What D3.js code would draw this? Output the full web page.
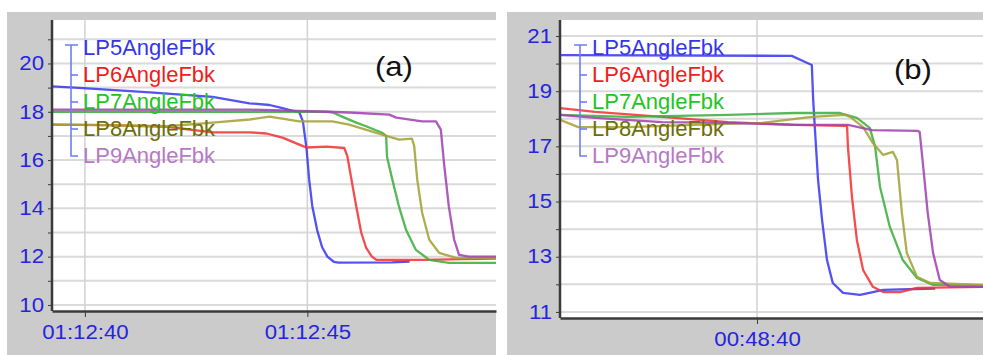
<!DOCTYPE html>
<html>
<head>
<meta charset="utf-8">
<script src="https://cdn.jsdelivr.net/npm/d3@7"></script>
<style>
  body { margin: 0; background: #fff; }
  svg { display: block; font-family: "Liberation Sans", Arial, sans-serif; }
  .grid-h { stroke: #dadada; stroke-width: 2; }
  .grid-v { stroke: #d2d2d2; stroke-width: 1.5; }
  .axis path, .axis line { stroke: #3a3a3a; }
  .axis path { stroke-width: 2.5; }
  .axis text { fill: #2424e0; font-size: 19.5px; }
  .series { fill: none; stroke-width: 2.3; stroke-linejoin: round; stroke-opacity: 0.88; }
  .legend text { font-size: 22px; }
  .bracket { stroke: #6f7ef2; stroke-width: 1.6; fill: none; }
</style>
</head>
<body>
<script>
// series names and colours (line colour / legend text colour)
const names = ["LP5AngleFbk", "LP6AngleFbk", "LP7AngleFbk", "LP8AngleFbk", "LP9AngleFbk"];
const lineColors = ["#3b3bf2", "#f23434", "#3fae3f", "#a3a339", "#a244b2"];
const textColors = ["#3434ee", "#f01c1c", "#22c422", "#6e6e08", "#b579c6"];
const panelLabels = ["(a)", "(b)"];

// panel (a): seconds after 01:12:00
const aTicksX = [40, 45];
const aLabelsX = ["01:12:40", "01:12:45"];
const aTicksY = [10, 12, 14, 16, 18, 20];
const aLP5 = [[39.26,19.05],[39.96,18.98],[41.46,18.8],[42.87,18.62],[43.7,18.35],[44.15,18.28],[44.44,18.15],[44.82,17.97],[44.9,17.6],[44.98,16.5],[45.04,15.2],[45.11,14.1],[45.22,13.1],[45.33,12.4],[45.45,12.0],[45.6,11.78],[45.7,11.75],[46.9,11.76],[47.3,11.8]];
const aLP6 = [[39.26,17.47],[40.5,17.45],[41.84,17.38],[42.87,17.15],[43.7,17.15],[44.08,17.1],[44.44,16.93],[44.82,16.64],[44.98,16.52],[45.43,16.56],[45.83,16.5],[45.9,16.15],[45.99,15.2],[46.1,14.07],[46.21,13.0],[46.32,12.37],[46.45,12.0],[46.55,11.87],[47.6,11.87],[48.5,11.9],[49.24,11.92]];
const aLP7 = [[39.26,18.0],[43.7,18.0],[45.43,18.0],[45.56,17.98],[45.78,17.8],[46.1,17.55],[46.32,17.4],[46.68,17.13],[46.77,17.0],[46.79,16.14],[46.91,15.19],[47.06,14.07],[47.22,13.1],[47.44,12.28],[47.74,11.87],[48.18,11.74],[49.24,11.74]];
const aLP8 = [[39.26,17.47],[40.5,17.45],[41.84,17.4],[42.87,17.55],[43.7,17.68],[44.15,17.8],[44.82,17.6],[45.56,17.6],[45.94,17.47],[46.68,17.05],[47.06,16.85],[47.35,16.89],[47.4,16.6],[47.47,15.19],[47.58,13.82],[47.74,12.7],[47.96,12.16],[48.34,11.95],[49.24,11.95]];
const aLP9 = [[39.26,18.09],[43.7,18.09],[45.43,18.0],[45.94,17.97],[46.84,17.88],[47.0,17.76],[47.58,17.6],[47.89,17.6],[48.0,17.26],[48.07,15.89],[48.18,14.07],[48.3,12.7],[48.41,12.07],[48.63,12.0],[49.24,12.0]];

// panel (b): seconds after 00:48:00
const bTicksX = [40];
const bLabelsX = ["00:48:40"];
const bTicksY = [11, 13, 15, 17, 19, 21];
const bLP5 = [[35.58,20.31],[40.78,20.28],[41.08,20.06],[41.23,19.95],[41.26,18.7],[41.3,17.6],[41.37,15.78],[41.46,14.33],[41.57,12.88],[41.7,12.05],[41.93,11.69],[42.31,11.62],[42.6,11.72],[42.83,11.8],[44.0,11.85]];
const bLP6 = [[35.58,18.39],[36.37,18.25],[37.87,18.07],[39.35,17.88],[40.85,17.78],[41.97,17.74],[42.02,17.75],[42.04,16.98],[42.13,15.17],[42.24,13.61],[42.38,12.52],[42.6,11.91],[42.83,11.72],[43.21,11.72],[43.59,11.87],[45.07,11.91]];
const bLP7 = [[35.58,18.14],[37.11,18.07],[39.35,18.14],[40.85,18.21],[41.86,18.21],[42.24,18.03],[42.53,17.67],[42.65,16.98],[42.76,15.53],[42.98,14.08],[43.27,12.88],[43.59,12.23],[43.95,11.98],[45.07,11.96]];
const bLP8 = [[35.58,17.96],[35.99,17.7],[37.11,17.7],[38.61,17.78],[40.11,17.85],[41.23,18.07],[41.97,18.14],[42.09,18.07],[42.38,17.7],[42.6,17.12],[42.83,16.69],[43.05,16.8],[43.14,16.51],[43.25,14.59],[43.36,13.14],[43.59,12.27],[43.88,12.05],[45.07,11.98]];
const bLP9 = [[35.58,18.14],[36.37,18.03],[37.87,17.88],[39.35,17.85],[40.85,17.78],[42.04,17.78],[42.58,17.59],[43.61,17.56],[43.65,17.52],[43.72,16.4],[43.83,14.59],[43.95,13.14],[44.1,12.16],[44.33,11.91],[45.07,11.91]];

let svg = d3.select("body").append("svg")
    .attr("width", 983)
    .attr("height", 355);

let panels = [
  {id: "a", bg: [7, 12, 496, 355], plot: {left: 52, right: 496, top: 20, bottom: 311},
   xDomain: [39.26, 49.24], yDomain: [9.75, 21.8],
   ticksX: aTicksX, labelsX: aLabelsX, ticksY: aTicksY,
   series: [aLP5, aLP6, aLP7, aLP8, aLP9],
   legendX: 83, legendY: 55, bracketX: 71, labelPos: [394, 76], label: panelLabels[0]},
  {id: "b", bg: [507, 12, 983, 355], plot: {left: 560, right: 983, top: 20, bottom: 318},
   xDomain: [35.58, 45.07], yDomain: [10.78, 21.58],
   ticksX: bTicksX, labelsX: bLabelsX, ticksY: bTicksY,
   series: [bLP5, bLP6, bLP7, bLP8, bLP9],
   legendX: 592, legendY: 55, bracketX: 580, labelPos: [913, 79], label: panelLabels[1]}
];

function drawPanel(p) {
  let g = svg.append("g");
  let pl = p.plot;

  g.append("rect")
      .attr("x", p.bg[0]).attr("y", p.bg[1])
      .attr("width", p.bg[2] - p.bg[0]).attr("height", p.bg[3] - p.bg[1])
      .attr("fill", "#cbcbcb");
  g.append("rect")
      .attr("x", pl.left).attr("y", pl.top)
      .attr("width", pl.right - pl.left).attr("height", pl.bottom - pl.top)
      .attr("fill", "#fff");

  let x = d3.scaleLinear().domain(p.xDomain).range([pl.left, pl.right]);
  let y = d3.scaleLinear().domain(p.yDomain).range([pl.bottom, pl.top]);

  // every whole unit gets a grid line and a minor tick
  let yMinor = d3.range(Math.ceil(p.yDomain[0]), Math.floor(p.yDomain[1]) + 1);

  g.append("g").selectAll("line")
    .data(yMinor)
    .enter().append("line")
      .attr("class", "grid-h")
      .attr("x1", pl.left).attr("x2", pl.right)
      .attr("y1", d => y(d)).attr("y2", d => y(d));
  g.append("g").selectAll("line")
    .data(p.ticksX)
    .enter().append("line")
      .attr("class", "grid-v")
      .attr("x1", d => x(d)).attr("x2", d => x(d))
      .attr("y1", pl.top).attr("y2", pl.bottom);

  let clipId = "clip-" + p.id;
  g.append("clipPath").attr("id", clipId)
    .append("rect")
      .attr("x", pl.left).attr("y", pl.top)
      .attr("width", pl.right - pl.left).attr("height", pl.bottom - pl.top);

  let line = d3.line()
      .x(d => x(d[0]))
      .y(d => y(d[1]));

  let lines = g.append("g").attr("clip-path", `url(#${clipId})`);
  p.series.forEach((s, i) => {
    lines.append("path")
        .datum(s)
        .attr("class", "series")
        .attr("stroke", lineColors[i])
        .attr("d", line);
  });

  // legend with its bracket
  let lg = g.append("g").attr("class", "legend");
  let rowY = i => p.legendY + i * 27;
  lg.selectAll("text")
    .data(names)
    .enter().append("text")
      .attr("x", p.legendX)
      .attr("y", (d, i) => rowY(i))
      .attr("fill", (d, i) => textColors[i])
      .text(d => d);
  let bx = p.bracketX;
  lg.append("path")
      .attr("class", "bracket")
      .attr("d", `M${bx - 6},${rowY(0) - 10}H${bx + 7}M${bx},${rowY(0) - 10}V${rowY(4) - 7}H${bx + 7}`);
  lg.selectAll("line")
    .data(names.slice(1, 4))
    .enter().append("line")
      .attr("class", "bracket")
      .attr("x1", bx).attr("x2", bx + 7)
      .attr("y1", (d, i) => rowY(i + 1) - 7)
      .attr("y2", (d, i) => rowY(i + 1) - 7);

  // axes
  let yAxis = d3.axisLeft(y)
      .tickValues(yMinor)
      .tickSize(4)
      .tickSizeOuter(0)
      .tickFormat(d => p.ticksY.includes(d) ? d : "");
  let ya = g.append("g")
      .attr("class", "axis")
      .attr("transform", `translate(${pl.left},0)`)
      .call(yAxis);
  ya.select(".domain").attr("d", `M0,${pl.top}V${pl.bottom}`);
  ya.selectAll("text").attr("x", -7).attr("transform", "scale(1.14,1)");

  let xAxis = d3.axisBottom(x)
      .tickValues(p.ticksX)
      .tickSize(6)
      .tickSizeOuter(0)
      .tickPadding(8)
      .tickFormat((d, i) => p.labelsX[i]);
  let xa = g.append("g")
      .attr("class", "axis")
      .attr("transform", `translate(0,${pl.bottom})`)
      .call(xAxis);
  xa.selectAll("text").attr("transform", "scale(1.14,1)");

  g.append("text")
      .attr("x", p.labelPos[0])
      .attr("y", p.labelPos[1])
      .attr("text-anchor", "middle")
      .attr("font-size", 27)
      .attr("fill", "#111")
      .attr("transform", `translate(${p.labelPos[0]},0) scale(1.15,1) translate(${-p.labelPos[0]},0)`)
      .text(p.label);
}

panels.forEach(drawPanel);
</script>
</body>
</html>
